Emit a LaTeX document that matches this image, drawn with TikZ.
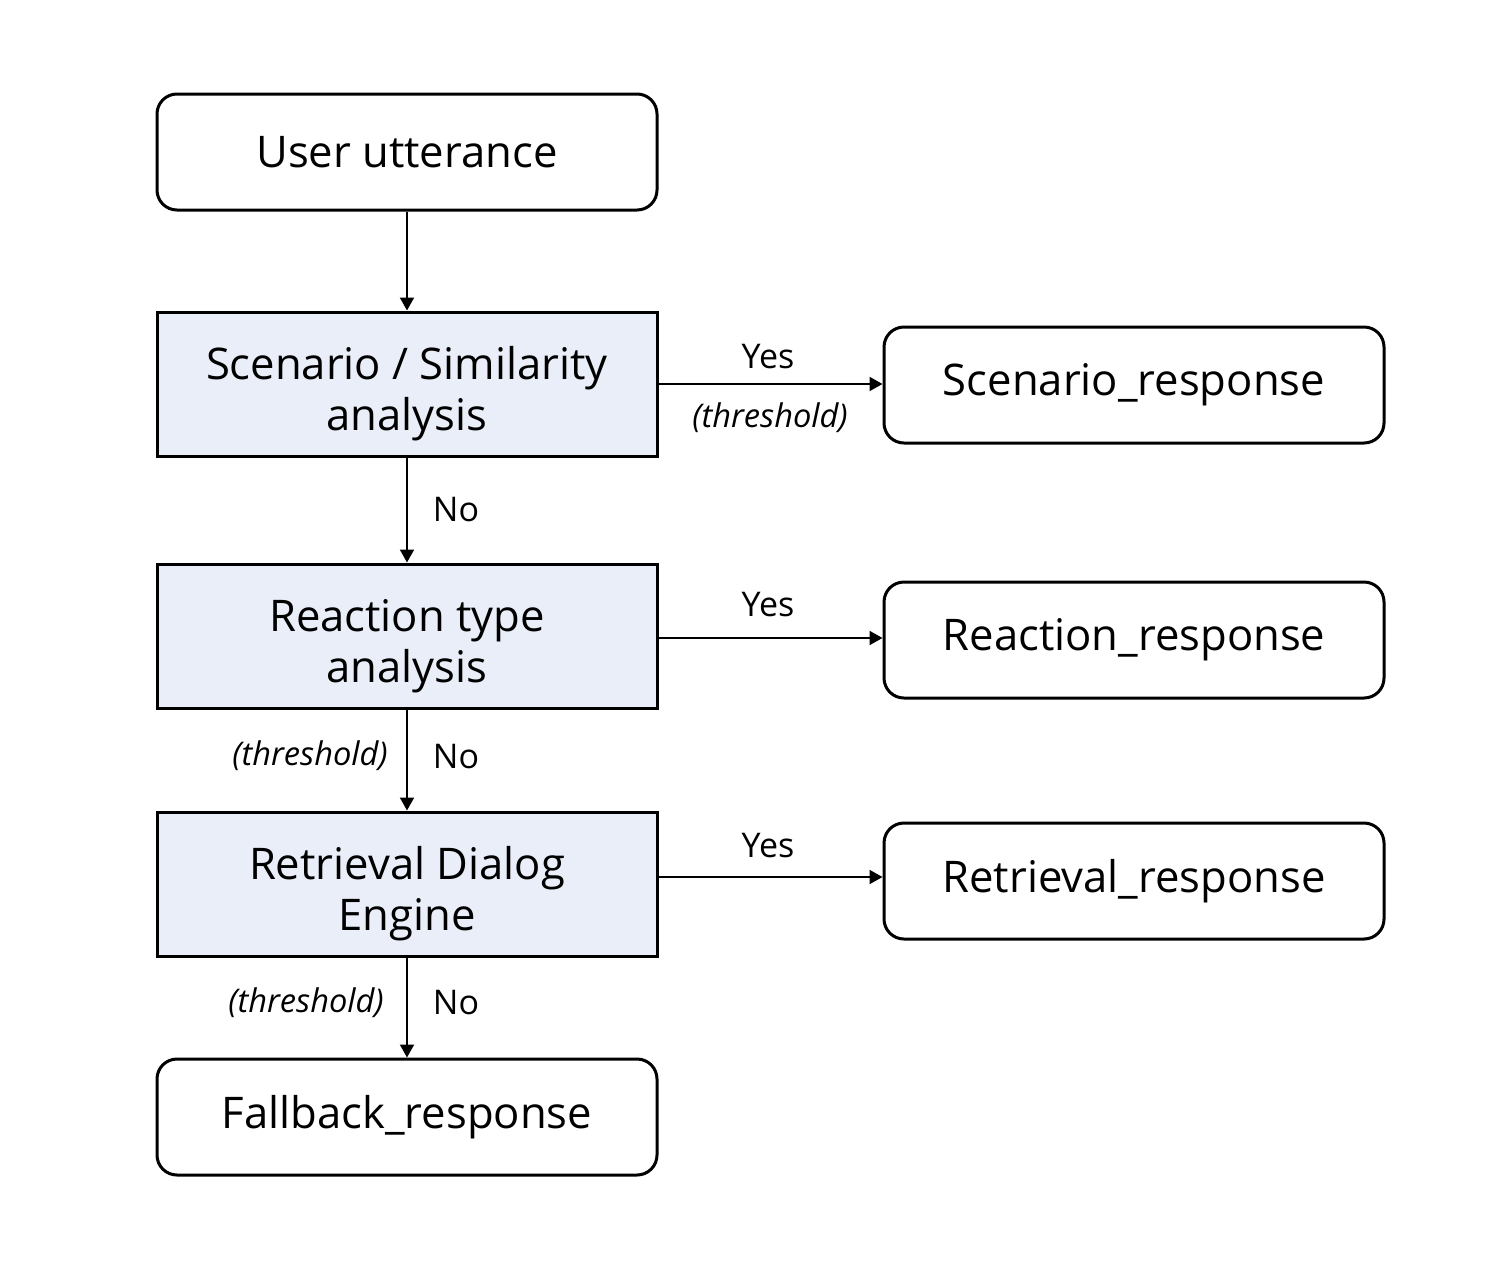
\documentclass[tikz,border=0pt]{standalone}
\usepackage{fontspec}
\setmainfont{Open Sans}
\usetikzlibrary{arrows.meta}
\definecolor{etapafundo}{RGB}{233,238,248}
\tikzset{
  terminal/.style={rectangle, rounded corners=10pt, draw=black, line width=1.5pt, fill=white,
    minimum width=250pt, minimum height=58pt, inner sep=0pt, align=center,
    font=\fontsize{21.8}{26}\selectfont},
  etapa/.style={rectangle, draw=black, line width=1.5pt, fill=etapafundo,
    minimum width=250pt, minimum height=72pt, inner sep=0pt, align=center,
    font=\fontsize{21.8}{25.5}\selectfont},
  fluxo/.style={-{Triangle[length=6.5pt, width=7pt]}, line width=1pt},
  rotulo/.style={inner sep=0pt, font=\fontsize{17}{20}\selectfont},
  limiar/.style={inner sep=0pt, font=\fontsize{16.3}{20}\selectfont\itshape},
}
\newcommand{\topo}{\rule{0pt}{26pt}}

\begin{document}
\begin{tikzpicture}[x=0.5pt, y=-0.5pt]
  \useasboundingbox (0,0) rectangle (1508,1286);

  % ---------------- coluna principal ----------------
  \node[terminal] (entrada) at (407,152) {User utterance};
  \node[etapa] (cenario) at (407,384) {\topo Scenario / Similarity\\analysis};
  \node[etapa] (reacao) at (407,636) {\topo Reaction type\\analysis};
  \node[etapa] (busca) at (407,884) {\topo Retrieval Dialog\\Engine};
  \node[terminal] (fallback) at (407,1117) {Fallback\_response};

  % ---------------- respostas ----------------
  \node[terminal] (respcenario) at (1134,385) {Scenario\_response};
  \node[terminal] (respreacao) at (1134,640) {Reaction\_response};
  \node[terminal] (respbusca) at (1134,881) {Retrieval\_response};

  % ---------------- ligações ----------------
  \draw[fluxo] (entrada) -- (cenario);
  \draw[fluxo] (cenario) -- (reacao);
  \draw[fluxo] (reacao) -- (busca);
  \draw[fluxo] (busca) -- (fallback);
  \draw[fluxo] (cenario.east) -- (cenario.east -| respcenario.west);
  \draw[fluxo] ([yshift=-1pt]reacao.east) -- ([yshift=-1pt]reacao.east -| respreacao.west);
  \draw[fluxo] ([yshift=3.5pt]busca.east) -- ([yshift=3.5pt]busca.east -| respbusca.west);

  % ---------------- rótulos ----------------
  \node[rotulo] (sim1) at (768,357) {Yes};
  \node[limiar] (lim1) at (770,418) {(threshold)};
  \node[rotulo] (nao1) at (456,510) {No};
  \node[rotulo] (sim2) at (768,605) {Yes};
  \node[limiar] (lim2) at (310,756) {(threshold)};
  \node[rotulo] (nao2) at (456,757) {No};
  \node[rotulo] (sim3) at (768,846) {Yes};
  \node[limiar] (lim3) at (306,1003) {(threshold)};
  \node[rotulo] (nao3) at (456,1003) {No};
\end{tikzpicture}
\end{document}
